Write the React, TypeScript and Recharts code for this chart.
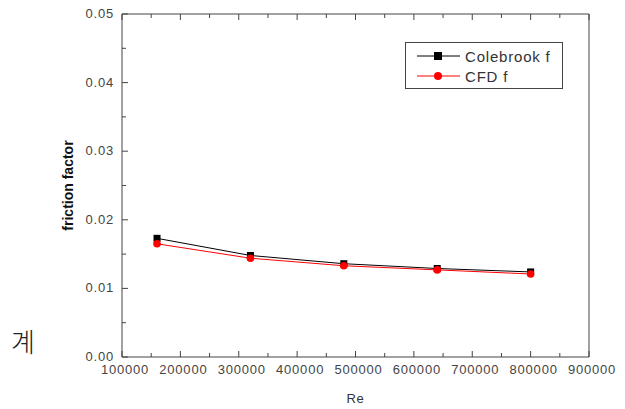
import React from 'react'
import { LineChart, Line, XAxis, YAxis, Legend } from 'recharts'

// Reynolds numbers and friction factors
const reValues = [160000, 320000, 480000, 640000, 800000]
const colebrookF = [0.0173, 0.0148, 0.0136, 0.0129, 0.0124]
const cfdF = [0.0165, 0.0144, 0.0133, 0.0127, 0.0121]

const xTicks = [
  100000, 150000, 200000, 250000, 300000, 350000, 400000, 450000, 500000,
  550000, 600000, 650000, 700000, 750000, 800000, 850000, 900000,
]
const yTicks = [0, 0.005, 0.01, 0.015, 0.02, 0.025, 0.03, 0.035, 0.04, 0.045, 0.05]

const data = reValues.map((re, i) => ({ re, colebrook: colebrookF[i], cfd: cfdF[i] }))

const AXIS = '#444'
const LABEL = '#444'
const FONT = 'Arial, "Liberation Sans", sans-serif'

const isMajorX = (v: number) => v % 100000 === 0
const isMajorY = (v: number) => Math.round(v * 1000) % 10 === 0

function BottomTick(props: any) {
  const { x, y, payload } = props
  const major = isMajorX(payload.value)
  return (
    <g>
      <line x1={x} x2={x} y1={y} y2={y - (major ? 6 : 4)} stroke={AXIS} />
      {major && (
        <text x={x + 3} y={y + 17} textAnchor="middle" fontSize={13} letterSpacing={0.8} fill={LABEL} fontFamily={FONT}>
          {payload.value}
        </text>
      )}
    </g>
  )
}

function TopTick(props: any) {
  const { x, y, payload } = props
  const major = isMajorX(payload.value)
  return <line x1={x} x2={x} y1={y} y2={y + (major ? 6 : 4)} stroke={AXIS} />
}

function LeftTick(props: any) {
  const { x, y, payload } = props
  const major = isMajorY(payload.value)
  return (
    <g>
      <line x1={x} x2={x + (major ? 6 : 4)} y1={y} y2={y} stroke={AXIS} />
      {major && (
        <text x={x - 8} y={y + 4} textAnchor="end" fontSize={13} letterSpacing={0.8} fill={LABEL} fontFamily={FONT}>
          {payload.value.toFixed(2)}
        </text>
      )}
    </g>
  )
}

function RightTick(props: any) {
  const { x, y, payload } = props
  const major = isMajorY(payload.value)
  return <line x1={x} x2={x - (major ? 6 : 4)} y1={y} y2={y} stroke={AXIS} />
}

function SquareDot(props: any) {
  const { cx, cy } = props
  return <rect x={cx - 3.5} y={cy - 3.5} width={7} height={7} fill="#000" />
}

function CircleDot(props: any) {
  const { cx, cy } = props
  return <circle cx={cx} cy={cy} r={3.8} fill="#ff0000" />
}

function LegendBox() {
  const row = (label: string, color: string, square: boolean) => (
    <div style={{ display: 'flex', alignItems: 'center', height: 20 }}>
      <svg width={46} height={12} style={{ marginLeft: 10 }}>
        <line x1={1} x2={44} y1={6} y2={6} stroke={color} />
        {square ? <rect x={18} y={2} width={8} height={8} fill={color} /> : <circle cx={22} cy={6} r={4} fill={color} />}
      </svg>
      <span style={{ fontSize: 15, letterSpacing: 0.8, color: '#333', marginLeft: 3 }}>{label}</span>
    </div>
  )
  return (
    <div
      style={{
        width: 158,
        height: 47,
        border: '1px solid #444',
        fontFamily: FONT,
        boxSizing: 'border-box',
        paddingTop: 3,
        background: '#fff',
      }}
    >
      {row('Colebrook f', '#000', true)}
      {row('CFD f', '#ff0000', false)}
    </div>
  )
}

export default function App() {
  return (
    <div style={{ position: 'fixed', left: 0, top: 0, width: 625, height: 409, background: '#fff' }}>
      <div
        style={{
          position: 'absolute',
          left: 11,
          top: 322,
          fontSize: 26,
          fontFamily: '"Noto Sans CJK KR", sans-serif',
          fontWeight: 300,
          color: '#222',
        }}
      >
        계
      </div>
      <LineChart width={625} height={409} data={data} margin={{ top: 0, right: 0, bottom: 0, left: 0 }}>
        <XAxis
          dataKey="re"
          type="number"
          domain={[100000, 900000]}
          ticks={xTicks}
          interval={0}
          height={52}
          tickSize={0}
          tickMargin={0}
          tick={BottomTick}
          axisLine={{ stroke: AXIS }}
          label={{ value: 'Re', position: 'insideBottom', offset: 6, fontSize: 13, fill: '#333', fontFamily: FONT, letterSpacing: 0.8 }}
        />
        <XAxis
          xAxisId="top"
          dataKey="re"
          type="number"
          orientation="top"
          domain={[100000, 900000]}
          ticks={xTicks}
          interval={0}
          height={14}
          tickSize={0}
          tickMargin={0}
          tick={TopTick}
          axisLine={{ stroke: AXIS }}
        />
        <YAxis
          type="number"
          domain={[0, 0.05]}
          ticks={yTicks}
          interval={0}
          width={122}
          tickSize={0}
          tickMargin={0}
          tick={LeftTick}
          axisLine={{ stroke: AXIS }}
          label={{
            content: (p: any) => {
              const vb = p.viewBox
              const cy = vb.y + vb.height / 2
              return (
                <text
                  x={73}
                  y={cy}
                  transform={`rotate(-90 73 ${cy})`}
                  textAnchor="middle"
                  fontSize={14}
                  fontWeight="bold"
                  fill="#111"
                  fontFamily={FONT}
                >
                  friction factor
                </text>
              )
            },
          }}
        />
        <YAxis
          yAxisId="right"
          type="number"
          orientation="right"
          domain={[0, 0.05]}
          ticks={yTicks}
          interval={0}
          width={36}
          tickSize={0}
          tickMargin={0}
          tick={RightTick}
          axisLine={{ stroke: AXIS }}
        />
        <Legend
          verticalAlign="middle"
          content={<LegendBox />}
          wrapperStyle={{ position: 'absolute', left: 405, top: 42, width: 158, height: 47 }}
        />
        <Line
          dataKey="colebrook"
          name="Colebrook f"
          stroke="#000"
          strokeWidth={1}
          dot={SquareDot}
          activeDot={false}
          isAnimationActive={false}
        />
        <Line
          dataKey="cfd"
          name="CFD f"
          stroke="#ff0000"
          strokeWidth={1}
          dot={CircleDot}
          activeDot={false}
          isAnimationActive={false}
        />
      </LineChart>
    </div>
  )
}
